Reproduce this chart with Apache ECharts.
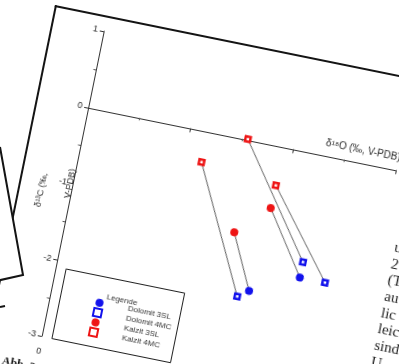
<!DOCTYPE html>
<html>
<head>
<meta charset="utf-8">
<script src="https://cdn.jsdelivr.net/npm/echarts@6/dist/echarts.min.js"></script>
<style>
  html, body { margin: 0; padding: 0; background: #fff; overflow: hidden; }
  body { width: 399px; height: 364px; position: relative; }
  #page {
    position: absolute; left: 55px; top: 5px; width: 520px; height: 520px;
    background: #fff; border-top: 2px solid #141414; border-left: 2px solid #141414;
    transform: rotate(11.5deg); transform-origin: 0 0;
  }
  #chart { position: absolute; left: -2px; top: -2px; width: 470px; height: 420px; }
  #sheet { position: absolute; left: 0; top: 0; }
</style>
</head>
<body>
<div id="page"><div id="chart"></div></div>
<svg id="sheet" width="399" height="364">
  <polygon points="0,147 23,275 0,280" fill="#fff" />
  <polyline points="0,147 23,275 -4,281" fill="none" stroke="#141414" stroke-width="2" />
  <line x1="0" y1="307" x2="5" y2="306" stroke="#141414" stroke-width="2" />
</svg>
<script>
// δ18O (x), δ13C (y) pairs; index i of Kalzit is linked to index i of Dolomit
const kalzit4MC = [[3.11, 0.01], [2.33, -0.40], [3.81, -0.50]];
const dolomit4MC = [[4.61, -1.40], [3.51, -2.00], [5.10, -1.60]];
const kalzit3SL = [[3.21, -1.20], [3.80, -0.80]];
const dolomit3SL = [[3.71, -1.90], [4.61, -1.60]];

const xLabelValues = [0, 2, 4];
const legendNames = ["Dolomit 3SL", "Dolomit 4MC", "Kalzit 3SL", "Kalzit 4MC"];
const yTitleLines = ["δ¹³C (‰,", "V-PDB)"];
const pageText = ["u", "2", "(T", "au", "lic", "leic", "sind", "U"];

const blue = "#1212ec";
const red = "#ee1414";
const ink = "#2a2a2a";

const chart = echarts.init(document.getElementById("chart"), null, { renderer: "canvas" });

const links = [];
kalzit4MC.forEach((p, i) => links.push([p, dolomit4MC[i]]));
kalzit3SL.forEach((p, i) => links.push([p, dolomit3SL[i]]));

const circle = (name, color, data) => ({
  name, type: "scatter", data, symbol: "circle", symbolSize: 8, z: 3,
  itemStyle: { color, opacity: 1 },
});
const square = (name, color, data) => ({
  name, type: "scatter", data, symbol: "rect", symbolSize: 5, z: 3,
  itemStyle: { color: "#fff", borderColor: color, borderWidth: 2.5, opacity: 1 },
});

chart.setOption({
  animation: false,
  grid: { left: 53, top: 16, width: 314, height: 311, outerBoundsMode: "none" },
  xAxis: {
    type: "value", min: 0, max: 6, interval: 2,
    name: "δ¹⁸O (‰, V-PDB)", nameLocation: "end", nameGap: 2,
    nameTextStyle: { align: "right", verticalAlign: "bottom", fontSize: 10, color: ink, padding: [0, 0, 8, 0] },
    axisLine: { onZero: true, lineStyle: { color: "#333", width: 1 } },
    axisTick: { length: 4, lineStyle: { color: "#333" } },
    minorTick: { show: true, splitNumber: 2, length: 2.5, lineStyle: { color: "#555" } },
    axisLabel: {
      fontSize: 9, color: ink, margin: 11, fontFamily: "Liberation Sans",
      formatter: (v) => (xLabelValues.includes(v) ? String(v) : ""),
    },
    splitLine: { show: false },
  },
  yAxis: {
    type: "value", min: -3, max: 1, interval: 1,
    axisLine: { onZero: false, lineStyle: { color: "#333", width: 1 } },
    axisTick: { length: 4, lineStyle: { color: "#333" } },
    minorTick: { show: true, splitNumber: 2, length: 2.5, lineStyle: { color: "#555" } },
    axisLabel: { fontSize: 9, color: ink, margin: 6, fontFamily: "Liberation Sans" },
    splitLine: { show: false },
  },
  textStyle: { fontFamily: "Liberation Sans" },
  legend: {
    data: legendNames, orient: "vertical", left: 93, top: 274,
    itemWidth: 8, itemHeight: 8, itemGap: 1, selectedMode: false,
    textStyle: { fontSize: 8, color: "#333", padding: [10, 0, 0, 20] },
  },
  graphic: [
    { type: "rect", shape: { x: 63.5, y: 256.5, width: 121, height: 71 },
      style: { fill: "none", stroke: "#222", lineWidth: 1 } },
    { type: "text", x: 109, y: 276,
      style: { text: "Legende", font: "8px Liberation Sans", fill: "#333", verticalAlign: "middle" } },
    // y-axis title, two rotated lines as in the original
    { type: "text", x: 24, y: 184, rotation: Math.PI / 2,
      style: { text: yTitleLines[0], font: "9px Liberation Sans", fill: ink, align: "center", verticalAlign: "middle" } },
    { type: "text", x: 51, y: 172, rotation: Math.PI / 2,
      style: { text: yTitleLines[1], font: "9px Liberation Sans", fill: ink, align: "center", verticalAlign: "middle" } },
    { type: "text", x: 19, y: 354,
      style: { text: "Abb. 3", font: "bold 12px Liberation Serif", fill: "#111", verticalAlign: "top" } },
    ...pageText.map((t, i) => ({
      type: "text", x: 381, y: 170 + 16.7 * i,
      style: { text: t, font: "15px Liberation Serif", fill: "#222", verticalAlign: "middle" },
    })),
  ],
  series: [
    ...links.map((pair) => ({
      type: "line", data: pair, symbol: "none", silent: true, z: 1,
      lineStyle: { color: "#555", width: 1 },
    })),
    circle("Dolomit 3SL", blue, dolomit3SL),
    square("Dolomit 4MC", blue, dolomit4MC),
    circle("Kalzit 3SL", red, kalzit3SL),
    square("Kalzit 4MC", red, kalzit4MC),
  ],
});
</script>
</body>
</html>
